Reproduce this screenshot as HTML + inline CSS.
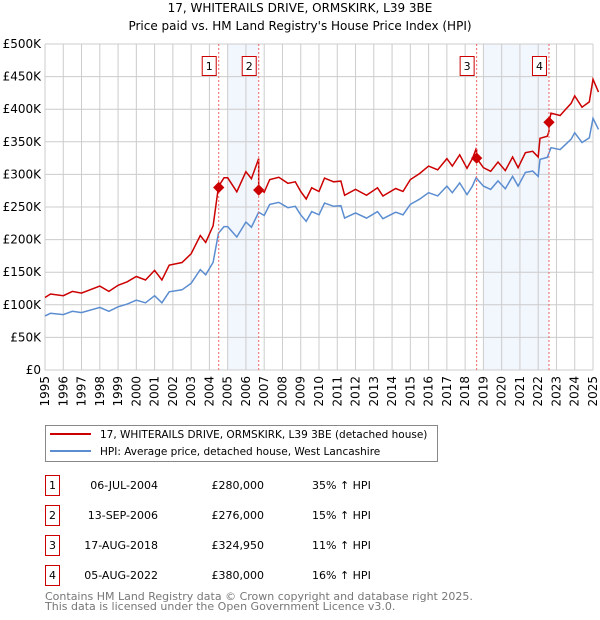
<!DOCTYPE html>
<html><head><meta charset="utf-8"><style>
body{margin:0;background:#fff;font-family:"DejaVu Sans","Liberation Sans",sans-serif;}
#wrap{position:relative;width:600px;height:620px;overflow:hidden;}
svg text{font-family:"DejaVu Sans","Liberation Sans",sans-serif;}
</style></head><body>
<div id="wrap">
<svg id="chart" width="600" height="620">
<text x="300" y="12" text-anchor="middle" font-size="12">17, WHITERAILS DRIVE, ORMSKIRK, L39 3BE</text>
<text x="300" y="30" text-anchor="middle" font-size="12">Price paid vs. HM Land Registry's House Price Index (HPI)</text>
<g id="shade"></g><g id="grid"></g><g id="axes"></g><g id="series"></g><g id="marks"></g>
<g>
<rect x="45.5" y="425.5" width="392" height="36" fill="#fff" stroke="#888"/>
<line x1="50" y1="434" x2="91" y2="434" stroke="#cc0000" stroke-width="2"/>
<text x="100" y="438" font-size="10.5">17, WHITERAILS DRIVE, ORMSKIRK, L39 3BE (detached house)</text>
<line x1="50" y1="451" x2="91" y2="451" stroke="#5b8dd0" stroke-width="2"/>
<text x="100" y="455" font-size="10.5">HPI: Average price, detached house, West Lancashire</text>
</g>
<g id="table"></g>
<text x="45" y="600" font-size="11" fill="#777">Contains HM Land Registry data © Crown copyright and database right 2025.</text>
<text x="45" y="610" font-size="11" fill="#777">This data is licensed under the Open Government Licence v3.0.</text>
</svg>
</div>
<script>
const hpiYears=[1995.0,1995.3,1996.0,1996.5,1997.0,1998.0,1998.5,1999.0,1999.5,2000.0,2000.5,2001.0,2001.4,2001.8,2002.5,2003.0,2003.5,2003.8,2004.2,2004.5,2004.8,2005.0,2005.5,2006.0,2006.3,2006.7,2007.0,2007.3,2007.8,2008.3,2008.7,2009.0,2009.3,2009.6,2010.0,2010.3,2010.8,2011.2,2011.4,2012.0,2012.6,2013.2,2013.5,2014.2,2014.6,2015.0,2015.5,2016.0,2016.5,2017.0,2017.3,2017.7,2018.1,2018.4,2018.6,2019.0,2019.4,2019.8,2020.2,2020.6,2020.9,2021.3,2021.7,2022.0,2022.1,2022.5,2022.7,2023.2,2023.5,2023.8,2024.0,2024.4,2024.8,2025.0,2025.3];
const hpiValues=[83,87,85,90,88,96,90,97,101,107,103,114,103,120,123,133,154,146,165,210,220,220,204,227,219,242,237,254,257,249,251,238,228,243,238,256,251,252,233,241,233,243,232,242,238,254,262,272,267,282,272,287,269,282,295,282,277,290,278,297,282,303,305,297,323,326,341,338,346,354,364,349,356,386,369];
const saleDates=[2004.51,2006.70,2018.63,2022.59];
const salePrices=[280000,276000,324950,380000];
const saleLabels=["06-JUL-2004","13-SEP-2006","17-AUG-2018","05-AUG-2022"];
const salePriceLabels=["£280,000","£276,000","£324,950","£380,000"];
const saleHpiDiff=["35% ↑ HPI","15% ↑ HPI","11% ↑ HPI","16% ↑ HPI"];
const segFactors=[1.34,1.15,1.10,1.155];
const yTicks=[0,50,100,150,200,250,300,350,400,450,500];
const yTickLabels=["£0","£50K","£100K","£150K","£200K","£250K","£300K","£350K","£400K","£450K","£500K"];
const xTicks=[1995,1996,1997,1998,1999,2000,2001,2002,2003,2004,2005,2006,2007,2008,2009,2010,2011,2012,2013,2014,2015,2016,2017,2018,2019,2020,2021,2022,2023,2024,2025];
const shadeRanges=[[2005,2006.70],[2019,2022.59]];

const X0=45,X1=593,Y0=370,Y1=44;
const xs=y=>X0+(y-1995)/30*(X1-X0);
const ys=v=>Y0-v/500*(Y0-Y1);
const NS="http://www.w3.org/2000/svg";
function mk(tag,attrs,parent){const e=document.createElementNS(NS,tag);for(const k in attrs)e.setAttribute(k,attrs[k]);parent.appendChild(e);return e;}
const grid=document.getElementById('grid'),axes=document.getElementById('axes'),shade=document.getElementById('shade'),series=document.getElementById('series'),marks=document.getElementById('marks'),table=document.getElementById('table');

shadeRanges.forEach((r,i)=>{const e=mk('rect',{x:xs(r[0]),y:Y1,width:xs(r[1])-xs(r[0]),height:Y0-Y1,fill:'#f2f6fd'},shade);

});
yTicks.forEach((t,i)=>{const l=mk('line',{x1:X0,x2:X1,y1:ys(t),y2:ys(t),stroke:'#ccc'},grid);


const tx=mk('text',{x:X0-4,y:ys(t)+4,'text-anchor':'end','font-size':12},axes);tx.textContent=yTickLabels[i];

});
xTicks.forEach(t=>{const l=mk('line',{x1:xs(t),x2:xs(t),y1:Y1,y2:Y0,stroke:'#ccc'},grid);


const tx=mk('text',{x:0,y:0,'text-anchor':'end','font-size':12,transform:`translate(${xs(t)+4},${Y0+6}) rotate(-90)`},axes);tx.textContent=t;

});

function factorAt(y){let s=0;for(let i=1;i<saleDates.length;i++)if(y>=saleDates[i])s=i;return segFactors[s];}
let hp='',rp='';
hpiYears.forEach((y,i)=>{hp+=(i?'L':'M')+xs(y).toFixed(1)+','+ys(hpiValues[i]).toFixed(1);});
let pts=[];hpiYears.forEach((y,i)=>pts.push([y,hpiValues[i]]));
function hpiAt(y){for(let i=1;i<hpiYears.length;i++)if(y<=hpiYears[i]){const t=(y-hpiYears[i-1])/(hpiYears[i]-hpiYears[i-1]);return hpiValues[i-1]+t*(hpiValues[i]-hpiValues[i-1]);}return hpiValues[hpiValues.length-1];}
let first=true;
pts.forEach((p,i)=>{
  for(let s=1;s<saleDates.length;s++){const d=saleDates[s];if(i>0&&pts[i-1][0]<d&&p[0]>=d){const h=hpiAt(d);rp+='L'+xs(d).toFixed(1)+','+ys(h*segFactors[s-1]).toFixed(1)+'L'+xs(d).toFixed(1)+','+ys(salePrices[s]/1000).toFixed(1);}}
  rp+=(first?'M':'L')+xs(p[0]).toFixed(1)+','+ys(p[1]*factorAt(p[0])).toFixed(1);first=false;});
const hl=mk('path',{d:hp,fill:'none',stroke:'#5b8dd0','stroke-width':1.5},series);


const rl=mk('path',{d:rp,fill:'none',stroke:'#cc0000','stroke-width':1.5},series);



saleDates.forEach((d,i)=>{
  const x=xs(d);
  const v=mk('line',{x1:x,x2:x,y1:Y1,y2:Y0,stroke:'#e66','stroke-dasharray':'2,2'},marks);
  
  
  const m=mk('rect',{x:x-4,y:ys(salePrices[i]/1000)-4,width:8,height:8,fill:'#cc0000',transform:`rotate(45 ${x} ${ys(salePrices[i]/1000)})`},marks);
  
  
  const b=mk('rect',{x:x-16.5,y:56.5,width:14,height:19,fill:'#fff',stroke:'#cc0000'},marks);
  
  
  const bt=mk('text',{x:x-9.5,y:70,'text-anchor':'middle','font-size':11},marks);bt.textContent=i+1;
  
  
  const ry=475+i*30;
  const tb=mk('rect',{x:45.5,y:ry+0.5,width:14,height:20,fill:'#fff',stroke:'#cc0000'},table);
  
  
  const n=mk('text',{x:52.5,y:ry+14,'text-anchor':'middle','font-size':11},table);n.textContent=i+1;
  
  
  const dt=mk('text',{x:158,y:ry+14,'text-anchor':'end','font-size':11},table);dt.textContent=saleLabels[i];
  
  
  const pr=mk('text',{x:264,y:ry+14,'text-anchor':'end','font-size':11},table);pr.textContent=salePriceLabels[i];
  
  
  const hd=mk('text',{x:312,y:ry+14,'font-size':11},table);hd.textContent=saleHpiDiff[i];
  
  
});
</script>
</body></html>
